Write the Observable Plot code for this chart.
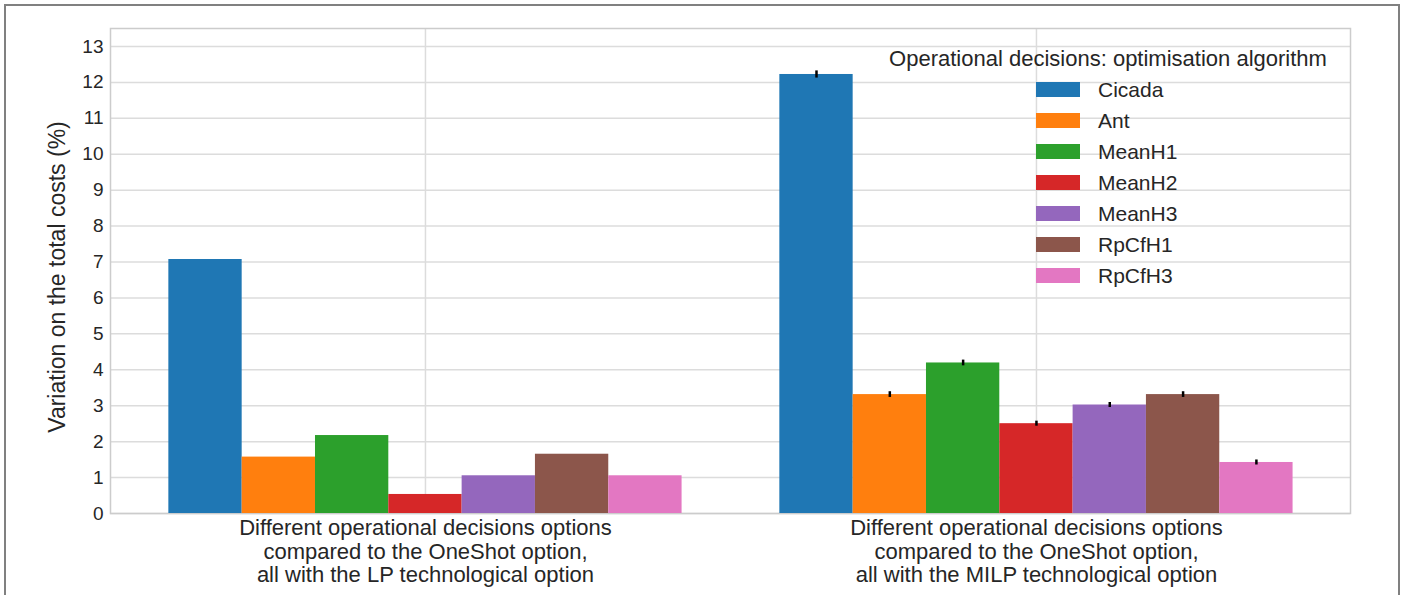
<!DOCTYPE html>
<html>
<head>
<meta charset="utf-8">
<script src="https://cdn.jsdelivr.net/npm/d3@7"></script>
<script src="https://cdn.jsdelivr.net/npm/@observablehq/plot@0.6"></script>
<style>
  html, body { margin: 0; padding: 0; background: #fff; }
  #wrap { position: relative; width: 1407px; height: 595px; overflow: hidden; font-family: "Liberation Sans", Arial, sans-serif; }
  #border { position: absolute; left: 4px; top: 4px; width: 1396px; height: 600px; border: 2px solid #808080; box-sizing: border-box; pointer-events: none; }
  #legend { position: absolute; left: 858px; top: 44px; width: 500px; color: #262626; }
  #legend .title { font-size: 22px; text-align: center; white-space: nowrap; height: 30px; line-height: 30px; }
  #legend .rows { margin-left: 178px; }
  #legend .row { height: 31px; display: flex; align-items: center; font-size: 21px; }
  #legend .sw { width: 44px; height: 15px; margin-right: 18px; }
</style>
</head>
<body>
<div id="wrap">
  <div id="chart"></div>
  <div id="legend"></div>
  <div id="border"></div>
</div>
<script>
const algorithms = ["Cicada", "Ant", "MeanH1", "MeanH2", "MeanH3", "RpCfH1", "RpCfH3"];
const colors = ["#1f77b4", "#ff7f0e", "#2ca02c", "#d62728", "#9467bd", "#8c564b", "#e377c2"];
const groupLabels = [
  "Different operational decisions options\ncompared to the OneShot option,\nall with the LP technological option",
  "Different operational decisions options\ncompared to the OneShot option,\nall with the MILP technological option"
];
const lpValues   = [7.07, 1.57, 2.17, 0.53, 1.05, 1.65, 1.05];
const milpValues = [12.22, 3.31, 4.19, 2.50, 3.02, 3.31, 1.42];
const lpErrors   = [0, 0, 0, 0, 0, 0, 0];
const milpErrors = [0.10, 0.08, 0.08, 0.07, 0.07, 0.08, 0.07];
const yTicks = d3.range(0, 14);

const barWidth = 0.12;
const rows = [];
[lpValues, milpValues].forEach((vals, g) => {
  const errs = g === 0 ? lpErrors : milpErrors;
  vals.forEach((v, i) => {
    const c = g + (i - (algorithms.length - 1) / 2) * barWidth;
    rows.push({group: g, algorithm: algorithms[i], value: v, err: errs[i], xc: c, x1: c - barWidth / 2, x2: c + barWidth / 2});
  });
});
const groups = groupLabels.map((label, g) => ({g, label}));

const chart = Plot.plot({
  width: 1407,
  height: 595,
  marginLeft: 110,
  marginRight: 57,
  marginTop: 28,
  marginBottom: 82,
  style: {fontFamily: "'Liberation Sans', Arial, sans-serif", color: "#262626", background: "#fff"},
  x: {type: "linear", domain: [-0.5155, 1.514], axis: null},
  y: {domain: [0, 13.5], axis: null},
  color: {domain: algorithms, range: colors},
  marks: [
    Plot.ruleY(yTicks, {stroke: "#dcdcdc", strokeWidth: 1.5}),
    Plot.ruleX([0, 1], {stroke: "#dcdcdc", strokeWidth: 1.5}),
    Plot.frame({stroke: "#cccccc", strokeWidth: 1.5}),
    Plot.rectY(rows, {x1: "x1", x2: "x2", y1: 0, y2: "value", fill: "algorithm"}),
    Plot.ruleX(rows.filter(d => d.err > 0), {x: "xc", y1: d => d.value - d.err, y2: d => d.value + d.err, stroke: "#000", strokeWidth: 2.5}),
    Plot.axisY(yTicks, {tickSize: 0, tickPadding: 7, fontSize: 19, label: null, tickFormat: d3.format("d")}),
    Plot.text(groups, {x: "g", y: 0, text: "label", lineAnchor: "top", dy: 4, fontSize: 22, lineHeight: 1.09, fill: "#262626"}),
    Plot.text(["Variation on the total costs (%)"], {frameAnchor: "left", textAnchor: "middle", lineAnchor: "middle", rotate: -90, dx: -53, dy: 6, fontSize: 23, fill: "#262626"})
  ]
});
document.getElementById("chart").appendChild(chart);

const legend = document.getElementById("legend");
const title = document.createElement("div");
title.className = "title";
title.textContent = "Operational decisions: optimisation algorithm";
legend.appendChild(title);
const rowsDiv = document.createElement("div");
rowsDiv.className = "rows";
algorithms.forEach((a, i) => {
  const r = document.createElement("div");
  r.className = "row";
  const sw = document.createElement("span");
  sw.className = "sw";
  sw.style.background = colors[i];
  const t = document.createElement("span");
  t.textContent = a;
  r.appendChild(sw); r.appendChild(t);
  rowsDiv.appendChild(r);
});
legend.appendChild(rowsDiv);
</script>
</body>
</html>
